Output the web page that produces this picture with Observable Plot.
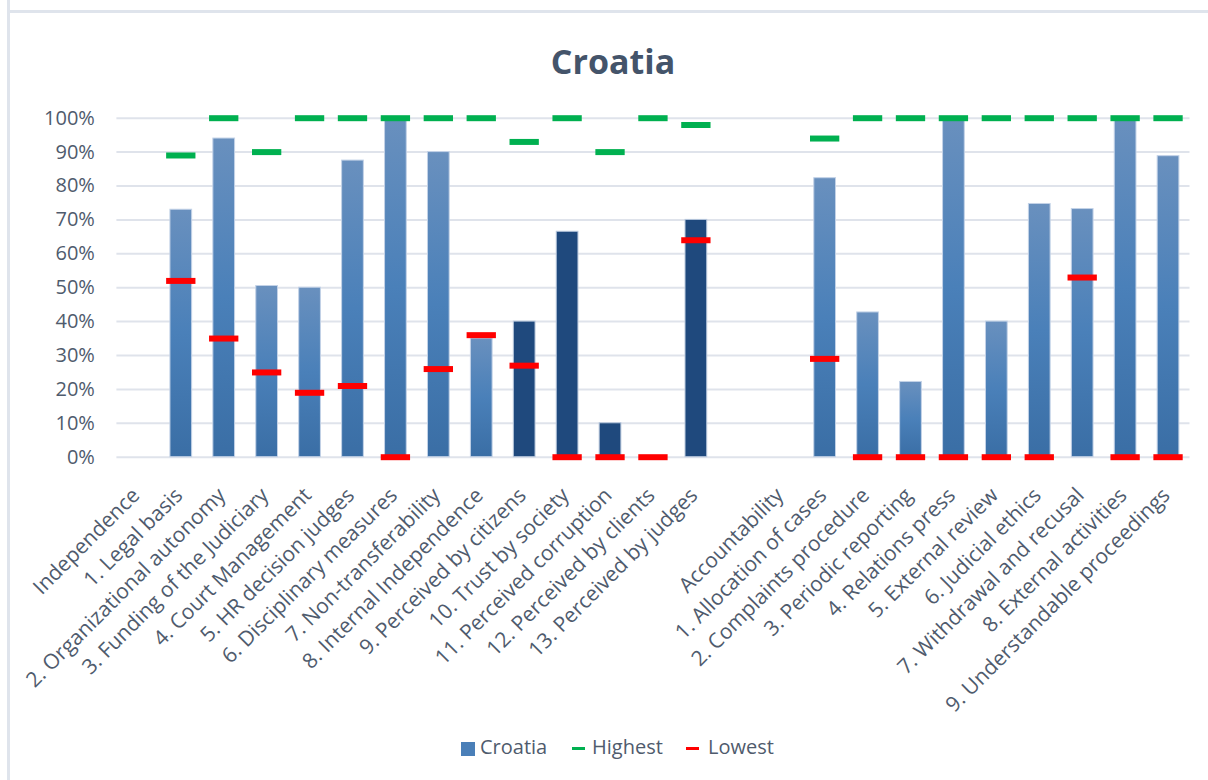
<!DOCTYPE html>
<html>
<head>
<meta charset="utf-8">
<script src="https://cdn.jsdelivr.net/npm/d3@7"></script>
<script src="https://cdn.jsdelivr.net/npm/@observablehq/plot@0.6"></script>
<style>
  html, body { margin: 0; padding: 0; background: #fff; }
  body { width: 1208px; height: 780px; position: relative; overflow: hidden; font-family: "Open Sans", sans-serif; }
  .abs { position: absolute; }
  #title { left: 9px; top: 38px; width: 1208px; text-align: center; font-size: 34px; line-height: 46px; font-weight: 700; color: #44546a; }
  #chart { left: 0; top: 95px; }
  .leg { position: absolute; top: 733px; font-size: 20px; line-height: 28px; color: #4f5b6d; white-space: nowrap; }
</style>
</head>
<body>
<div class="abs" style="left:7px;top:0;width:3px;height:780px;background:#dfe4ec"></div>
<div class="abs" style="left:8px;top:9.5px;width:1200px;height:3.5px;background:#dfe4ec"></div>
<div id="title" class="abs">Croatia</div>
<div id="chart" class="abs"></div>
<div class="abs" style="left:461px;top:741.5px;width:14px;height:14px;background:#4a7fb8"></div>
<div class="leg" style="left:480px">Croatia</div>
<div class="abs" style="left:572px;top:746.5px;width:13px;height:3px;background:#00b050"></div>
<div class="leg" style="left:592px">Highest</div>
<div class="abs" style="left:686px;top:746.5px;width:13px;height:3px;background:#ff0000"></div>
<div class="leg" style="left:708px">Lowest</div>
<script>
const categories = [
  "Independence", "1. Legal basis", "2. Organizational autonomy", "3. Funding of the Judiciary",
  "4. Court Management", "5. HR decision judges", "6. Disciplinary measures", "7. Non-transferability",
  "8. Internal Independence", "9. Perceived by citizens", "10. Trust by society", "11. Perceived corruption",
  "12. Perceived by clients", "13. Perceived by judges", " ", "Accountability",
  "1. Allocation of cases", "2. Complaints procedure", "3. Periodic reporting", "4. Relations press",
  "5. External review", "6. Judicial ethics", "7. Withdrawal and recusal", "8. External activities",
  "9. Understandable proceedings"
];
const croatia = [null, 73, 94, 50.5, 50, 87.5, 100, 90, 35, 40, 66.5, 10, null, 70, null, null,
  82.3, 42.7, 22.2, 100, 40, 74.7, 73.2, 100, 88.8];
const highest = [null, 89, 100, 90, 100, 100, 100, 100, 100, 93, 100, 90, 100, 98, null, null,
  94, 100, 100, 100, 100, 100, 100, 100, 100];
const lowest = [null, 52, 35, 25, 19, 21, 0, 26, 36, 27, 0, 0, 0, 64, null, null,
  29, 0, 0, 0, 0, 0, 53, 0, 0];
const perceived = ["9. Perceived by citizens", "10. Trust by society", "11. Perceived corruption",
  "12. Perceived by clients", "13. Perceived by judges"];
const yTicks = [0, 10, 20, 30, 40, 50, 60, 70, 80, 90, 100];

const rows = categories.map((c, i) => ({cat: c, croatia: croatia[i], highest: highest[i], lowest: lowest[i], dark: perceived.includes(c)}));

const gradient = () => {
  const defs = d3.create("svg:defs");
  const g = defs.append("linearGradient").attr("id", "barGrad").attr("x1", 0).attr("y1", 0).attr("x2", 0).attr("y2", 1);
  g.append("stop").attr("offset", "0%").attr("stop-color", "#6990be");
  g.append("stop").attr("offset", "50%").attr("stop-color", "#4a80b9");
  g.append("stop").attr("offset", "100%").attr("stop-color", "#3a6ea5");
  return defs.node();
};

const chart = Plot.plot({
  width: 1208,
  height: 630,
  marginTop: 22.7,
  marginBottom: 268.3,
  marginLeft: 116.4,
  marginRight: 18.5,
  style: {fontFamily: "Open Sans", fontSize: "20px", color: "#4f5b6d", background: "transparent"},
  x: {domain: categories, padding: 0, round: false, axis: null},
  y: {domain: [0, 100], ticks: yTicks, tickFormat: d => d + "%", tickSize: 0, tickPadding: 22, label: null},
  marks: [
    gradient,
    Plot.ruleY(yTicks, {stroke: "#dfe3eb", strokeWidth: 2}),
    Plot.barY(rows.filter(d => !d.dark && d.croatia != null), {x: "cat", y: "croatia", fill: "url(#barGrad)", stroke: "#c3d2e7", strokeWidth: 1, insetLeft: 10.6, insetRight: 10.6}),
    Plot.barY(rows.filter(d => d.dark && d.croatia != null), {x: "cat", y: "croatia", fill: "#1f497d", stroke: "#b9c8dd", strokeWidth: 1, insetLeft: 10.6, insetRight: 10.6}),
    Plot.tickY(rows.filter(d => d.highest != null), {x: "cat", y: "highest", stroke: "#00b050", strokeWidth: 6, insetLeft: 6.8, insetRight: 6.8}),
    Plot.tickY(rows.filter(d => d.lowest != null), {x: "cat", y: "lowest", stroke: "#ff0000", strokeWidth: 6, insetLeft: 6.8, insetRight: 6.8}),
    Plot.text(categories, {x: d => d, y: 0, text: d => d, rotate: -45, textAnchor: "end", lineAnchor: "middle", dx: -2.2, dy: 34.6, fontSize: 21, fill: "#4f5b6d"})
  ]
});
document.getElementById("chart").appendChild(chart);
</script>
</body>
</html>
